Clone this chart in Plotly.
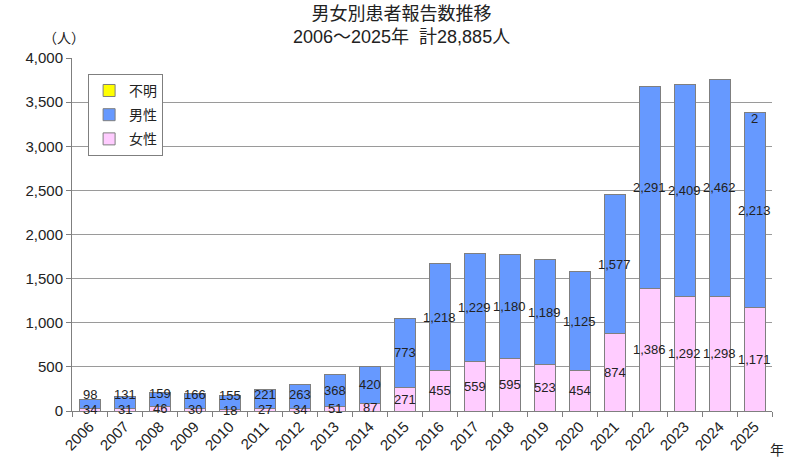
import plotly.graph_objects as go

years = [str(y) for y in range(2006, 2026)]
female = [34, 31, 46, 30, 18, 27, 34, 51, 87, 271, 455, 559, 595, 523, 454, 874, 1386, 1292, 1298, 1171]
male = [98, 131, 159, 166, 155, 221, 263, 368, 420, 773, 1218, 1229, 1180, 1189, 1125, 1577, 2291, 2409, 2462, 2213]
unknown = [0]*19 + [2]

font_fam = "Liberation Sans, Arial, Noto Sans CJK JP, sans-serif"
W, H = 805, 476
M = dict(l=72, r=33, t=58, b=65)
YMAX = 4000
px_per_unit = (H - M["t"] - M["b"]) / YMAX
min_sep = 15 / px_per_unit  # keep stacked labels from overlapping

fig = go.Figure()
line = dict(color="#7f7f7f", width=1)
fig.add_trace(go.Bar(x=years, y=female, name="女性", legendgroup="f", legendrank=3,
                     marker_color="#FFCCFF", marker_line=line))
fig.add_trace(go.Bar(x=years, y=male, name="男性", legendgroup="m", legendrank=2,
                     marker_color="#6699FF", marker_line=line))
fig.add_trace(go.Bar(x=years, y=unknown, name="不明", legendgroup="u", legendrank=1,
                     marker_color="#FFFF00", marker_line=line))

lab_font = dict(size=13, color="#222222", family=font_fam)
for i, (f, m, u) in enumerate(zip(female, male, unknown)):
    fy = f / 2
    my = max(f + m / 2, fy + min_sep)
    fig.add_annotation(x=i, y=fy, text=f"{f:,}", showarrow=False, font=lab_font)
    fig.add_annotation(x=i, y=my, text=f"{m:,}", showarrow=False, font=lab_font)
    if u:
        fig.add_annotation(x=i, y=f + m + u / 2, text=f"{u:,}", showarrow=False,
                           yshift=-6, font=lab_font)

fig.update_layout(
    width=W, height=H, barmode="stack", bargap=0.4,
    plot_bgcolor="white", paper_bgcolor="white",
    margin=M,
    font=dict(family=font_fam, size=13, color="#222222"),
    legend=dict(x=0.023, y=0.955, xanchor="left", yanchor="top",
                traceorder="grouped", tracegroupgap=3,
                bgcolor="white", bordercolor="#7f7f7f",
                borderwidth=1, font=dict(size=14), itemwidth=30),
    showlegend=True,
)
fig.update_xaxes(type="category", range=[-0.5, len(years) - 0.5], tickangle=-45,
                 ticks="outside", tickson="boundaries",
                 ticklen=5, tickcolor="#7f7f7f", showline=True, linecolor="#7f7f7f",
                 tickfont=dict(size=15))
fig.update_yaxes(range=[0, YMAX], dtick=500, tickformat=",", showgrid=True,
                 gridcolor="#9a9a9a", showline=True, linecolor="#7f7f7f",
                 ticks="outside", ticklen=5, tickcolor="#7f7f7f", zeroline=False,
                 tickfont=dict(size=15))
fig.add_annotation(text="男女別患者報告数推移<br>2006～2025年  計28,885人",
                   xref="paper", yref="paper", x=0.47, y=1.092, xanchor="center",
                   yanchor="middle", showarrow=False, font=dict(size=18, color="#222222"))
fig.add_annotation(text="（人）", xref="paper", yref="paper", x=-0.011, y=1.057,
                   xanchor="center", yanchor="middle", showarrow=False, font=dict(size=14))
fig.add_annotation(text="年", xref="paper", yref="paper", x=0.994, y=-0.11,
                   xanchor="left", yanchor="middle", showarrow=False, font=dict(size=14))
fig.write_html("out.html", config={"displayModeBar": False},
               post_script="document.body.style.margin='0';")
